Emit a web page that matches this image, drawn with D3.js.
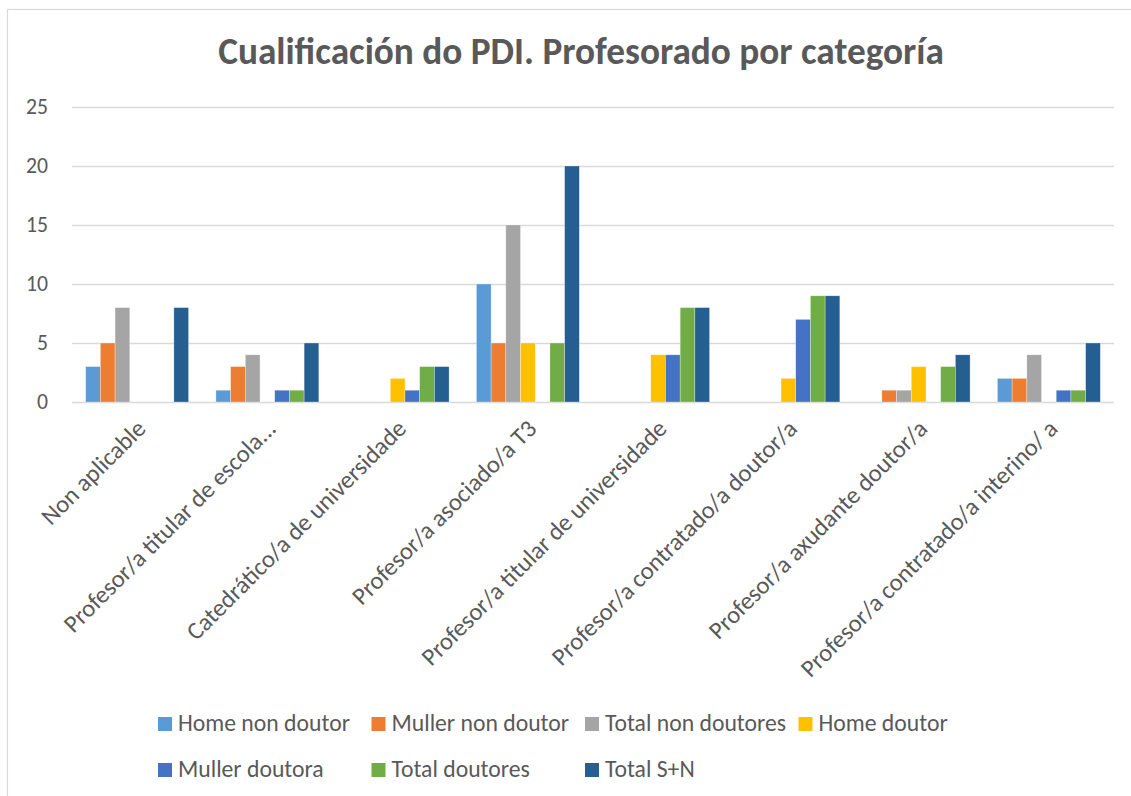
<!DOCTYPE html>
<html><head><meta charset="utf-8">
<script src="https://cdn.jsdelivr.net/npm/d3@7/dist/d3.min.js"></script>
<style>body{margin:0;background:#fff;overflow:hidden}</style>
</head><body>
<svg id="c" width="1131" height="796"></svg>
<script>
const categories = [
  "Non aplicable",
  "Profesor/a titular de escola...",
  "Catedrático/a de universidade",
  "Profesor/a asociado/a T3",
  "Profesor/a titular de universidade",
  "Profesor/a contratado/a doutor/a",
  "Profesor/a axudante doutor/a",
  "Profesor/a contratado/a interino/ a"
];
const seriesNames = ["Home non doutor","Muller non doutor","Total non doutores","Home doutor","Muller doutora","Total doutores","Total S+N"];
const seriesColors = ["#5B9BD5","#ED7D31","#A5A5A5","#FFC000","#4472C4","#70AD47","#255E91"];
const homeNonDoutor    = [3, 1, 0, 10, 0, 0, 0, 2];
const mullerNonDoutor  = [5, 3, 0, 5, 0, 0, 1, 2];
const totalNonDoutores = [8, 4, 0, 15, 0, 0, 1, 4];
const homeDoutor       = [0, 0, 2, 5, 4, 2, 3, 0];
const mullerDoutora    = [0, 1, 1, 0, 4, 7, 0, 1];
const totalDoutores    = [0, 1, 3, 5, 8, 9, 3, 1];
const totalSN          = [8, 5, 3, 20, 8, 9, 4, 5];
const yTicks = [0, 5, 10, 15, 20, 25];
const titleText = "Cualificación do PDI. Profesorado por categoría";

const seriesValues = [homeNonDoutor, mullerNonDoutor, totalNonDoutores, homeDoutor, mullerDoutora, totalDoutores, totalSN];

const FF = "Carlito, Calibri, 'Open Sans', 'Noto Sans', sans-serif";
const TXT = "#595959";
const GRID = "#d9d9d9";
const svg = d3.select("#c");

function fit(str, weight, target) {
  const t = svg.append("text").attr("font-family", FF).attr("font-weight", weight)
    .attr("font-size", 100).text(str);
  const w = t.node().getComputedTextLength();
  t.remove();
  return 100 * target / w;
}

// chart border
svg.append("rect").attr("x", 7.5).attr("y", 9.5).attr("width", 1200).attr("height", 900)
  .attr("fill", "#fff").attr("stroke", GRID).attr("stroke-width", 1.2);

// title
svg.append("text").attr("x", 581).attr("y", 64).attr("text-anchor", "middle")
  .attr("font-family", FF).attr("font-weight", "bold").attr("fill", TXT)
  .attr("font-size", fit(titleText, "bold", 726)).text(titleText);

const x0 = 72, x1 = 1114;
const x = d3.scaleBand().domain(categories).range([x0, x1]).paddingInner(0).paddingOuter(0);
const xs = d3.scaleBand().domain(seriesNames).range([0, x.bandwidth()]).paddingInner(0).paddingOuter(0.93);
const y = d3.scaleLinear().domain([0, 25]).range([402, 107]);

// y axis + gridlines
const tickSize = fit("25", "normal", 22);
const ya = svg.append("g").attr("transform", `translate(${x0},0)`)
  .call(d3.axisLeft(y).tickValues(yTicks).tickSize(-(x1 - x0)).tickPadding(24));
ya.select(".domain").remove();
ya.selectAll(".tick line").attr("stroke", GRID).attr("stroke-width", 1.3);
ya.selectAll(".tick text").attr("fill", TXT).attr("font-family", FF).attr("font-size", tickSize);

// bars
seriesNames.forEach((s, si) => {
  svg.append("g").selectAll("rect").data(seriesValues[si]).join("rect")
    .attr("x", (d, i) => x(categories[i]) + xs(s))
    .attr("width", xs.bandwidth())
    .attr("y", d => y(d))
    .attr("height", d => y(0) - y(d))
    .attr("fill", seriesColors[si])
    .attr("stroke", d => d > 0 ? "rgba(255,255,255,0.5)" : "none")
    .attr("stroke-width", 0.6);
});

// category labels
const catSize = fit("Non aplicable", "normal", 136);
svg.append("g").selectAll("text").data(categories).join("text")
  .attr("transform", d => `translate(${x(d) + x.bandwidth() / 2 + 4},424) rotate(-45)`)
  .attr("text-anchor", "end").attr("dy", "0.35em")
  .attr("font-family", FF).attr("font-size", catSize).attr("fill", TXT)
  .text(d => d);

// legend
const legSize = fit("Home non doutor", "normal", 172);
const lg = svg.append("g");
seriesNames.forEach((s, i) => {
  const col = i < 4 ? i : i - 4;
  const row = i < 4 ? 0 : 1;
  const lx = 158 + col * 213.5;
  const ly = 717 + row * 46;
  lg.append("rect").attr("x", lx).attr("y", ly).attr("width", 14).attr("height", 14)
    .attr("fill", seriesColors[i]);
  lg.append("text").attr("x", lx + 20).attr("y", ly + 14)
    .attr("font-family", FF).attr("font-size", legSize).attr("fill", TXT).text(s);
});
</script>
</body></html>
